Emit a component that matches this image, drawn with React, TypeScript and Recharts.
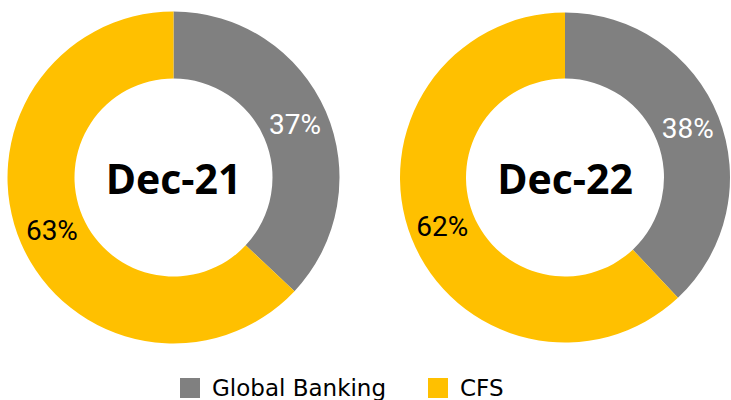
import { PieChart, Pie, Cell, Legend } from 'recharts';

const segments = ['Global Banking', 'CFS'];
const colors = ['#808080', '#FFC000'];
const labelColors = ['#FFFFFF', '#000000'];

const dec21Values = [37, 63];
const dec22Values = [38, 62];

const periods = ['Dec-21', 'Dec-22'];

const toRows = (values: number[], period: string) =>
  segments.map((name, i) => ({ name, value: values[i], period }));

const RADIAN = Math.PI / 180;

const renderPct = (props: any) => {
  const { cx, cy, midAngle, innerRadius, outerRadius, value, index, payload } = props;
  const r = (innerRadius + outerRadius) / 2;
  const x = cx + r * Math.cos(-midAngle * RADIAN);
  const y = cy + r * Math.sin(-midAngle * RADIAN);
  return (
    <g>
      <text
        x={x}
        y={y}
        fill={labelColors[index]}
        textAnchor='middle'
        dominantBaseline='central'
        fontFamily='Roboto, sans-serif'
        fontSize={28}
      >
        {`${value}%`}
      </text>
      {index === 0 && (
        <text
          x={cx}
          y={cy}
          fill='#000'
          textAnchor='middle'
          dominantBaseline='central'
          fontFamily='"Open Sans", sans-serif'
          fontWeight={700}
          fontSize={41}
        >
          {payload.period}
        </text>
      )}
    </g>
  );
};

const renderLegend = () => (
  <div
    style={{
      display: 'flex',
      justifyContent: 'flex-start',
      paddingLeft: 180,
      fontFamily: '"DejaVu Sans", sans-serif',
      fontSize: 23,
      color: '#000',
    }}
  >
    {segments.map((name, i) => (
      <div
        key={name}
        style={{
          display: 'flex',
          alignItems: 'center',
          marginRight: i === 0 ? 42 : 0,
        }}
      >
        <span
          style={{
            display: 'inline-block',
            width: 20,
            height: 20,
            background: colors[i],
            marginRight: 12,
          }}
        />
        <span>{name}</span>
      </div>
    ))}
  </div>
);

export default function App() {
  return (
    <div style={{ position: 'absolute', left: 0, top: 0, width: 731, height: 400, background: '#fff' }}>
      <PieChart width={731} height={400} margin={{ top: 0, right: 0, bottom: 0, left: 0 }}>
        <Pie
          data={toRows(dec21Values, periods[0])}
          dataKey='value'
          cx={173.5}
          cy={177.5}
          innerRadius={99}
          outerRadius={166}
          startAngle={90}
          endAngle={-270}
          stroke='none'
          label={renderPct}
          labelLine={false}
          isAnimationActive={false}
        >
          {dec21Values.map((_, i) => (
            <Cell key={i} fill={colors[i]} />
          ))}
        </Pie>
        <Pie
          data={toRows(dec22Values, periods[1])}
          dataKey='value'
          cx={565}
          cy={177.5}
          innerRadius={99}
          outerRadius={165}
          startAngle={90}
          endAngle={-270}
          stroke='none'
          label={renderPct}
          labelLine={false}
          isAnimationActive={false}
        >
          {dec22Values.map((_, i) => (
            <Cell key={i} fill={colors[i]} />
          ))}
        </Pie>
        <Legend
          content={renderLegend}
          wrapperStyle={{ position: 'absolute', left: 0, top: 375, width: 731 }}
        />
      </PieChart>
    </div>
  );
}
